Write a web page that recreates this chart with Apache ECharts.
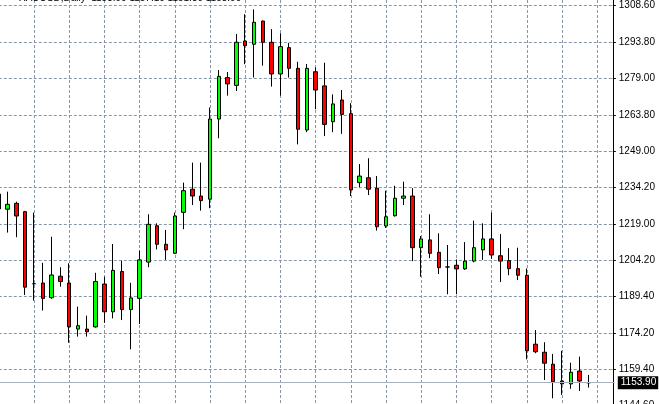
<!DOCTYPE html>
<html><head><meta charset="utf-8">
<script src="https://cdn.jsdelivr.net/npm/echarts@6/dist/echarts.min.js"></script>
<style>html,body{margin:0;padding:0;background:#fff;overflow:hidden}#c{width:659px;height:404px}</style>
</head><body><div id="c"></div>
<script>
const opens = [1231.3,1225.1,1227.5,1224.1,1194.5,1194.8,1188.8,1197.6,1194.8,1175.9,
  1175.9,1176.8,1194.4,1183.0,1199.5,1183.9,1188.5,1203.4,1218.3,1210.7,
  1207.0,1223.8,1233.3,1230.5,1229.2,1262.1,1279.1,1275.9,1294.1,1292.8,
  1302.3,1293.6,1280.6,1291.4,1282.9,1257.6,1281.5,1275.7,1261.0,1269.9,
  1264.3,1236.0,1238.0,1233.7,1218.2,1222.4,1229.6,1230.5,1209.3,1212.5,
  1207.4,1201.4,1202.1,1200.6,1203.8,1208.4,1212.9,1206.0,1204.0,1200.7,
  1198.0,1169.7,1166.4,1161.5,1154.6,1153.4,1158.7,1153.9];
const closes = [1225.2,1227.1,1222.3,1193.1,1194.5,1188.5,1198.1,1195.4,1176.8,1177.3,
  1174.8,1195.4,1183.0,1200.0,1183.9,1188.7,1204.3,1218.9,1210.7,1208.4,
  1222.3,1232.7,1230.5,1228.6,1262.1,1279.6,1276.5,1293.6,1292.2,1301.8,
  1293.6,1280.6,1291.8,1282.9,1257.9,1282.9,1274.0,1259.9,1268.3,1264.0,
  1233.0,1238.7,1233.3,1217.9,1222.0,1229.6,1230.5,1209.3,1212.9,1207.0,
  1201.1,1201.4,1200.6,1203.8,1209.3,1212.9,1206.3,1203.8,1200.7,1198.0,
  1167.0,1166.6,1161.9,1154.3,1153.4,1158.2,1154.6,1153.9];
const lows = [1223.1,1215.5,1213.6,1189.9,1187.6,1183.5,1188.3,1193.3,1170.3,1172.8,
  1172.8,1176.5,1178.5,1180.3,1179.6,1167.6,1178.0,1201.3,1208.6,1204.3,
  1206.7,1216.9,1226.8,1224.5,1225.5,1254.2,1271.7,1273.6,1284.6,1279.1,
  1284.0,1275.4,1271.7,1279.1,1251.7,1256.7,1266.1,1255.1,1256.7,1256.0,
  1230.5,1234.1,1230.9,1216.3,1217.4,1222.1,1226.8,1203.8,1197.4,1205.0,
  1198.5,1190.2,1190.2,1200.2,1203.3,1204.3,1204.7,1195.2,1198.0,1196.0,
  1163.5,1166.0,1155.0,1147.5,1148.9,1151.4,1150.5,1151.9];
const highs = [1233.4,1232.3,1228.2,1224.4,1223.7,1203.1,1213.8,1201.3,1202.9,1185.1,
  1181.4,1199.0,1197.4,1210.8,1204.0,1194.9,1208.1,1223.0,1219.3,1216.6,
  1223.7,1236.0,1244.2,1244.2,1266.8,1282.2,1281.4,1297.0,1305.1,1307.1,
  1302.5,1299.0,1297.3,1293.3,1285.6,1284.7,1283.3,1285.2,1272.2,1274.0,
  1268.6,1243.6,1246.0,1238.7,1232.7,1234.7,1236.4,1233.7,1214.1,1223.0,
  1215.2,1210.4,1204.5,1211.6,1220.4,1219.3,1223.7,1214.9,1209.1,1209.3,
  1200.8,1175.5,1170.5,1165.7,1167.0,1162.1,1164.6,1157.1];
const priceTicks = [1144.60,1159.40,1174.20,1189.40,1204.20,1219.00,1234.20,1249.00,1263.80,1279.00,1293.80,1308.60];
const currentPrice = 1153.90;
const titleText = 'XAUUSD,Daily  1153.90 1157.10 1151.80 1153.90';
const slotCount = 71;

const categories = [];
for (let i = 0; i < slotCount; i++) categories.push(String(i));
const candles = opens.map((o, i) => [o, closes[i], lows[i], highs[i]]);

const gridColor = '#8797a9';
const chart = echarts.init(document.getElementById('c'));
chart.setOption({
  animation: false,
  title: {
    text: titleText, left: 14, top: -12,
    textStyle: {fontSize: 10, fontWeight: 'normal', color: '#000', fontFamily: 'Liberation Sans'}
  },
  grid: {left: -1.2, top: 0, width: 616, height: 406, outerBoundsMode: 'none', containLabel: false},
  xAxis: {
    type: 'category', data: categories, boundaryGap: false,
    axisLine: {show: false}, axisTick: {show: false},
    axisLabel: {show: false, interval: 3},
    splitLine: {show: true, interval: 3, lineStyle: {color: gridColor, type: [3, 2], width: 1}}
  },
  yAxis: {
    type: 'value', position: 'right', offset: -2,
    min: 1144.34, max: 1310.94,
    axisLine: {show: true, lineStyle: {color: '#000', width: 1}},
    axisTick: {show: true, inside: false, length: 3, customValues: priceTicks, lineStyle: {color: '#000'}},
    axisLabel: {
      customValues: priceTicks, formatter: v => v.toFixed(2), margin: 6,
      color: '#000', fontSize: 10, fontFamily: 'Liberation Sans'
    },
    splitLine: {show: true, lineStyle: {color: gridColor, type: [3, 2], width: 1}}
  },
  series: [{
    type: 'candlestick', data: candles, barWidth: 4,
    itemStyle: {
      color: '#00ff00', color0: '#ff0000',
      borderColor: '#000', borderColor0: '#000', borderColorDoji: '#000', borderWidth: 1
    },
    markLine: {
      silent: true, symbol: 'none',
      data: [{yAxis: currentPrice}],
      lineStyle: {color: '#a7b2be', type: 'solid', width: 1},
      label: {
        position: 'end', distance: 3, formatter: () => currentPrice.toFixed(2),
        backgroundColor: '#000', color: '#fff', padding: [2, 2, 1, 3],
        fontSize: 10, fontFamily: 'Liberation Sans'
      }
    }
  }]
});
</script></body></html>
